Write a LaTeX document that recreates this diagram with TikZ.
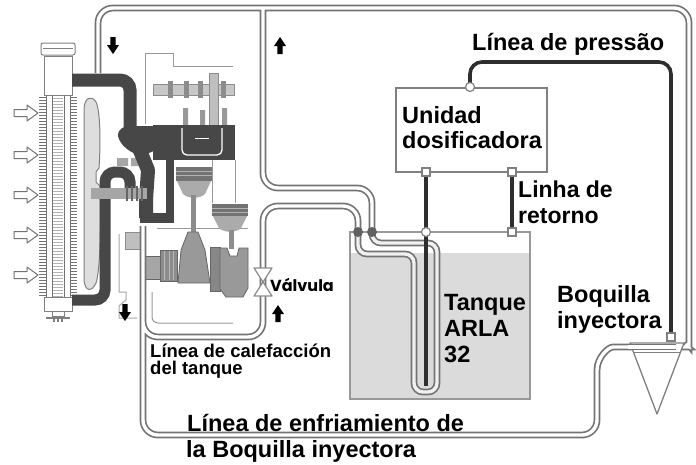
\documentclass[tikz,border=0pt]{standalone}
\usepackage{fontspec}
\setmainfont{Liberation Sans}
\newfontfamily\valvefont{Poppins}
\begin{document}
\begin{tikzpicture}[x=1pt,y=-1pt,
  pipe/.style={draw=black!55, line width=1.7pt, double=white, double distance=3.4pt},
  hose/.style={draw=black!72, line width=13pt},
  dosing/.style={draw=black!82, line width=3.6pt},
  port/.style={draw=black!50, line width=1.2pt, fill=white},
  thinpart/.style={draw=black!40, line width=1pt},
  lbl/.style={font=\fontsize{23.5}{24}\selectfont\bfseries, anchor=base west, inner sep=0pt},
  smalllbl/.style={font=\fontsize{18.5}{19}\selectfont\bfseries, anchor=base west, inner sep=0pt},
  airarrow/.pic={\draw[black!55, fill=white, line width=1pt, line join=round]
     (0,-3.5) -- (13,-3.5) -- (13,-8) -- (24,0) -- (13,8) -- (13,3.5) -- (0,3.5) -- cycle;},
  flowdown/.pic={\fill[black] (-2.6,0) -- (2.6,0) -- (2.6,8) -- (6,8) -- (0,17) -- (-6,8) -- (-2.6,8) -- cycle;},
  flowup/.pic={\fill[black] (-2.6,17) -- (2.6,17) -- (2.6,9) -- (6,9) -- (0,0) -- (-6,9) -- (-2.6,9) -- cycle;}
]
\useasboundingbox (0,0) rectangle (696,464);
\fill[white] (0,0) rectangle (696,464);

% ---------- radiator ----------
\draw[black!50, fill=white, line width=1pt, rounded corners=2pt] (41,43) rectangle (75,55);
\draw[black!50, line width=0.8pt] (43,48) -- (73,48);
\draw[black!50, fill=white, line width=1pt] (44,56) rectangle (72,95);
\foreach \y in {97,100,...,296} {
  \draw[black!55, line width=0.8pt] (39,\y) -- (46,\y) (70,\y) -- (77,\y);
  \draw[black!30, line width=0.7pt] (53,\y+1) -- (63,\y+1);
}
\draw[black!55, line width=0.9pt] (46,95) -- (46,298) (52,95) -- (52,298) (64,95) -- (64,298) (70,95) -- (70,298);
\draw[black!50, fill=white, line width=1pt] (44,297) rectangle (72,311);
\draw[black!50, line width=1pt] (52,311) rectangle (64,316);
\draw[black!50, line width=1.2pt] (46,318) -- (70,318) (54,316) -- (54,322) (58,316) -- (58,322) (62,316) -- (62,322);

% air flow into the radiator
\foreach \y in {113,155,195,235,275} { \pic at (14,\y) {airarrow}; }

% fan
\draw[black!50, fill=black!13, line width=1pt]
  (84,110) .. controls (84,97) and (92,95) .. (96,102)
  .. controls (100,110) and (101,140) .. (99,168) -- (96,172) -- (96,182) -- (100,186)
  .. controls (101,230) and (100,272) .. (96,283)
  .. controls (92,292) and (85,292) .. (84,280) -- cycle;

% ---------- engine ----------
% valve cover outline
\draw[thinpart] (145,124) -- (145,53) -- (173,53) -- (173,66) -- (233,66);
% camshaft
\draw[black!45, fill=black!22, line width=0.8pt] (153,84) rectangle (234,95);
\foreach \x in {168,184,198,221} { \fill[black!45] (\x,81) rectangle (\x+5,98); }
\draw[black!45, fill=black!25, line width=0.8pt] (209,73) rectangle (218,128);
% valve stems
\fill[black!40] (183,108) rectangle (188,128) (200,110) rectangle (205,128) (222,108) rectangle (227,128);
% cylinder head
\fill[black!72] (153,125) rectangle (235,160);
\draw[white, line width=1.3pt, rounded corners=5pt] (182,128) -- (182,155) -- (222,155) -- (222,128);
\draw[white, line width=1pt] (195,138) -- (209,138);
% block outlines
\draw[thinpart] (212,160) -- (212,203) (235,160) -- (235,203) (157,228) -- (248,228);
\draw[thinpart, rounded corners=6pt] (152,292) -- (152,323) -- (233,323);

% left piston
\fill[black!55] (176,167) rectangle (212,181);
\draw[black!30, line width=0.8pt] (176,171) -- (212,171) (176,175) -- (212,175);
\fill[black!33] (177,181) -- (211,181) -- (205,194) .. controls (200,199) and (188,199) .. (183,194) -- cycle;
\fill[black!45] (191,195) rectangle (196,233);
% right piston
\fill[black!55] (212,204) rectangle (248,216);
\draw[black!30, line width=0.8pt] (212,208) -- (248,208) (212,212) -- (248,212);
\fill[black!33] (213,216) -- (247,216) -- (241,228) .. controls (236,233) and (224,233) .. (219,228) -- cycle;
\fill[black!45] (229,230) rectangle (234,249);

% crankshaft
\draw[black!60, fill=black!35, line width=0.8pt] (145,256) rectangle (160,279);
\draw[black!60, fill=black!45, line width=0.8pt] (160,250) rectangle (177,281);
\draw[black!28, line width=0.8pt] (164,251) -- (164,280) (169,251) -- (169,280) (173,251) -- (173,280);
\draw[black!60, fill=black!40, line width=0.8pt] (178,283) -- (181,250) -- (188,232) -- (198,232) -- (205,250) -- (210,283) -- cycle;
\draw[black!60, fill=black!47, line width=0.8pt] (210,247) rectangle (220,291);
\draw[black!60, fill=black!40, line width=0.8pt] (220,248) -- (227,248) -- (230,256) -- (237,256) -- (239,248) -- (248,248) -- (248,288) -- (243,297) -- (226,297) -- (220,289) -- cycle;

% timing side parts
\draw[black!45, fill=black!25, line width=0.8pt] (125,232) rectangle (140,249);
\draw[black!35, line width=1pt] (119,234) -- (119,292) -- (126,292) -- (126,300) -- (119,306) -- (119,318) -- (137,318);

% water pump
\fill[black!35] (117,158) rectangle (128,166) (131,158) rectangle (140,166);

% coolant jacket and hoses
\draw[hose, rounded corners=10pt] (72,80) -- (130,80) -- (130,132);
\fill[black!72] (118,136) .. controls (118,128) and (124,126) .. (134,126) -- (153,126)
  -- (156,150) -- (142,156) .. controls (132,154) and (120,146) .. (118,136) -- cycle;
\draw[black!72, line width=14pt, line join=round] (134,136) -- (148,170) -- (146,200) -- (146,218);
\draw[black!72, line width=10pt] (140,218) -- (174,218);
\draw[black!72, line width=8pt] (170,150) -- (170,223);
\draw[hose, line width=11pt, rounded corners=10pt] (72,300) -- (105,300) -- (105,172) -- (130,172) -- (130,190);
\fill[black!35] (91,188) rectangle (147,199);
\foreach \x in {126,131,136,141} { \fill[black!60] (\x,186) rectangle (\x+2,201); }

% ---------- tank ----------
\draw[black!40, line width=1.6pt, fill=white] (350,232) rectangle (530,399);
\fill[black!14] (351,253) rectangle (529,398);

% ---------- coolant lines ----------
\draw[pipe, rounded corners=15pt]
  (98,73) -- (98,8) -- (689,8) -- (689,330)
  .. controls (689,342) and (684,347) .. (672,347) -- (628,347)
  .. controls (608,347) and (597,358) .. (597,385) -- (597,435) -- (143,435) -- (143,226)
  (263,8) -- (263,188) -- (372,188) -- (372,232)
  (143,300) -- (143,337) -- (263,337) -- (263,206) -- (358,206) -- (358,232);
% heating coil inside the tank
\draw[pipe, double=black!6, rounded corners=9pt]
  (358,232) -- (358,254) -- (414,254) -- (414,392) -- (437,392) -- (437,243) -- (372,243) -- (372,232);
\fill[black!62] (358,232) circle (5pt) (372,232) circle (5pt);

% valve
\draw[black!45, fill=white, line width=1.2pt, line join=round]
  (254,268) -- (272,268) -- (263,282) -- (272,296) -- (254,296) -- (263,282) -- cycle;

% nozzle
\draw[black!50, fill=white, line width=1.3pt, line join=round] (630,343) -- (684,343) -- (657,414) -- cycle;
\draw[pipe] (628,347) -- (676,347);
\draw[black!50, line width=1pt] (633,352) -- (681,352);

% ---------- dosing unit ----------
\node[draw=black!50, line width=1.5pt, fill=white, minimum width=151pt, minimum height=84pt,
      inner sep=0pt, anchor=north west] (unit) at (395,87) {};
\coordinate (pin) at (470,87);
\coordinate (suctop) at (426,172);
\coordinate (sucbot) at (426,386);
\coordinate (rettop) at (512,172);
\coordinate (retbot) at (512,232);
\coordinate (nozzlein) at (671,337);
\draw[dosing, rounded corners=12pt] (pin) -- (470,62) -- (671,62) -- (nozzlein);
\draw[dosing] (suctop) -- (sucbot);
\draw[dosing] (rettop) -- (retbot);
\draw[port] (pin) circle (4.5pt) (426,232) circle (4.5pt);
\draw[port] (422,168) rectangle (430,176) (508,168) rectangle (516,176)
            (508,228) rectangle (516,236) (667,333) rectangle (675,341);

% flow arrows
\pic at (113,37) {flowdown};
\pic at (280,37) {flowup};
\pic at (125,304) {flowdown};
\pic at (278,305) {flowup};

% ---------- labels ----------
\node[lbl] (tpress) at (472,50) {Línea de pressão};
\node[lbl] (tunit1) at (402,123) {Unidad};
\node[lbl] (tunit2) at (402,148) {dosificadora};
\node[lbl, font=\fontsize{23}{24}\selectfont\bfseries] (tret1) at (518,197) {Linha de};
\node[lbl, font=\fontsize{23}{24}\selectfont\bfseries] (tret2) at (518,223) {retorno};
\node[lbl] (ttank1) at (444,310) {Tanque};
\node[lbl] (ttank2) at (444,336) {ARLA};
\node[lbl] (ttank3) at (444,362) {32};
\node[lbl] (tnoz1) at (557,302) {Boquilla};
\node[lbl] (tnoz2) at (557,328) {inyectora};
\node[anchor=base west, inner sep=0pt, font=\valvefont\bfseries\fontsize{16}{16}\selectfont] (tvalve) at (270,291) {Válvula};
\node[smalllbl] (theat1) at (150,357) {Línea de calefacción};
\node[smalllbl] (theat2) at (150,374) {del tanque};
\node[lbl] (tcool1) at (187,431) {Línea de enfriamiento de};
\node[lbl] (tcool2) at (186,457) {la Boquilla inyectora};
\end{tikzpicture}
\end{document}
